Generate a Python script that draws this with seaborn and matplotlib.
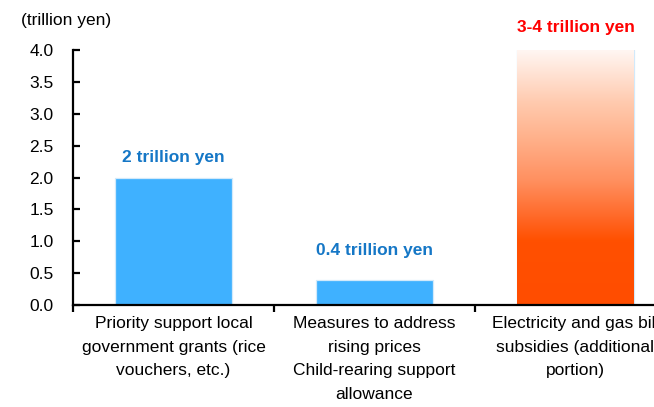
import numpy as np
import pandas as pd
import matplotlib
matplotlib.use("Agg")
import matplotlib.pyplot as plt
from matplotlib.colors import LinearSegmentedColormap
import seaborn as sns

# Budget items and their sizes (trillion yen)
categories = [
    "Priority support local\ngovernment grants (rice\nvouchers, etc.)",
    "Measures to address\nrising prices\nChild-rearing support\nallowance",
    "Electricity and gas bill\nsubsidies (additional\nportion)",
]
values = [2.0, 0.4, 4.0]
value_labels = ["2 trillion yen", "0.4 trillion yen", "3-4 trillion yen"]
y_ticks = [0.0, 0.5, 1.0, 1.5, 2.0, 2.5, 3.0, 3.5, 4.0]
unit_label = "(trillion yen)"

BLUE = "#3FB1FF"
BLUE_TEXT = "#1577C6"
RED_TEXT = "#FF0000"

sns.set_theme(style="white")
plt.rcParams["font.family"] = ["Liberation Sans", "DejaVu Sans"]

fig = plt.figure(figsize=(6.54, 4.07), dpi=100)
ax = fig.add_axes([73 / 654, 102 / 407, 603 / 654, 255 / 407])

df = pd.DataFrame({"item": categories, "amount": values})
sns.barplot(data=df, x="item", y="amount", hue="item",
            palette=[BLUE, BLUE, "#FF4D00"], width=0.58, saturation=1,
            edgecolor="#D2E9FA", linewidth=0.9, legend=False, ax=ax)

ax.set_xlim(-0.5, 2.5)
ax.set_ylim(0, 4.0)

# Gradient fill for the subsidy bar: solid orange at the base fading to white
grad_cmap = LinearSegmentedColormap.from_list(
    "subsidy",
    [(0.0, "#FF4D00"), (0.25, "#FF5000"), (0.35, "#FF6A2A"),
     (0.49, "#FF9060"), (0.65, "#FFB08A"), (0.80, "#FFCBB0"),
     (1.0, "#FFF6F2")])
bar = ax.patches[2]
bx, bw = bar.get_x(), bar.get_width()
grad = np.linspace(0, 1, 256).reshape(-1, 1)
img = ax.imshow(grad, cmap=grad_cmap, origin="lower", aspect="auto",
                extent=[bx, bx + bw, 0, bar.get_height()], zorder=bar.get_zorder() + 0.1)
img.set_clip_path(bar)
ax.set_xlim(-0.5, 2.5)
ax.set_ylim(0, 4.0)

# Value annotations above bars
label_y = [2.31, 0.86, 4.35]
label_colors = [BLUE_TEXT, BLUE_TEXT, RED_TEXT]
for i, (txt, yy, c) in enumerate(zip(value_labels, label_y, label_colors)):
    ax.text(i, yy, txt, ha="center", va="center", fontsize=12.5,
            fontweight="bold", color=c, clip_on=False)

# Axes styling
for s in ["top", "right"]:
    ax.spines[s].set_visible(False)
for s in ["left", "bottom"]:
    ax.spines[s].set_color("black")
    ax.spines[s].set_linewidth(1.6)

ax.set_yticks(y_ticks)
ax.set_yticklabels([f"{v:.1f}" for v in y_ticks])
ax.tick_params(axis="y", direction="in", length=5, width=1.6, pad=14,
               labelsize=12.5, colors="black", left=True)
ax.set_xticks(range(len(categories)))
ax.set_xticklabels(categories, fontsize=12.5, linespacing=1.72)
ax.tick_params(axis="x", which="major", length=0, pad=8, colors="black")
ax.set_xticks([-0.5, 0.5, 1.5, 2.5], minor=True)
ax.tick_params(axis="x", which="minor", direction="out", length=5,
               width=1.6, bottom=True, colors="black")
ax.set_xlabel("")
ax.set_ylabel("")

fig.text(21 / 654, 1 - 20 / 407, unit_label, ha="left", va="center",
         fontsize=12.5, color="black")

fig.savefig("out.png", dpi=100)
